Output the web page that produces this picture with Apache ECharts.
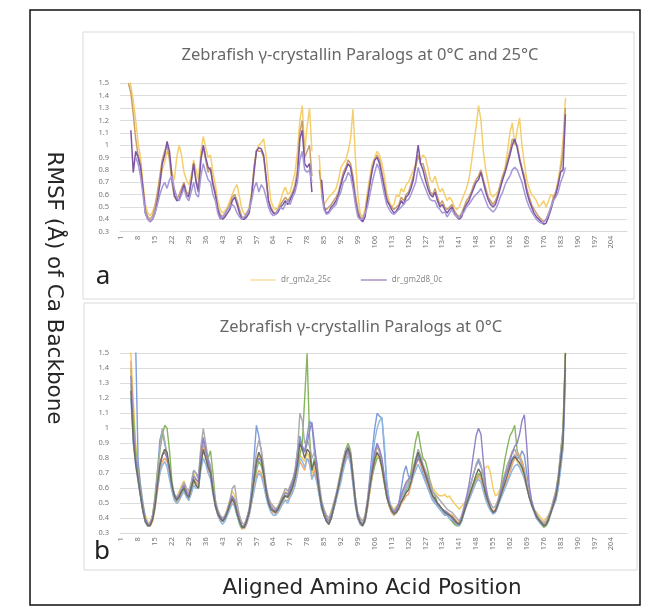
<!DOCTYPE html>
<html><head><meta charset="utf-8">
<script src="https://cdn.jsdelivr.net/npm/echarts@6/dist/echarts.min.js"></script>
<style>html,body{margin:0;padding:0;background:#fff}#c{width:663px;height:614px}</style>
</head><body><div id="c"></div>
<script>
const categories = Array.from({length:210},(_,i)=>String(i+1));
const yTicks = [0.3,0.4,0.5,0.6,0.7,0.8,0.9,1,1.1,1.2,1.3,1.4,1.5];

// Panel a
const a_gm2a_25c = [null,null,null,1.56,1.48,1.36,1.2,1.02,0.9,0.7,
0.52,0.45,0.43,0.46,0.52,0.6,0.7,0.8,0.86,0.95,
0.9,0.78,0.72,0.9,1.0,0.92,0.78,0.72,0.68,0.75,
0.88,0.8,0.72,0.95,1.07,0.98,0.9,0.92,0.78,0.68,
0.55,0.48,0.45,0.47,0.5,0.55,0.6,0.65,0.68,0.58,
0.48,0.44,0.45,0.5,0.62,0.8,0.95,1.0,1.02,1.05,
0.92,0.72,0.55,0.5,0.48,0.5,0.55,0.62,0.66,0.6,
0.62,0.7,0.78,0.95,1.2,1.32,0.95,1.15,1.3,0.95,
null,null,0.92,0.6,0.52,0.55,0.58,0.6,0.62,0.65,
0.72,0.82,0.85,0.88,0.95,1.05,1.29,0.9,0.6,0.45,
0.42,0.48,0.62,0.75,0.85,0.9,0.95,0.92,0.85,0.75,
0.62,0.55,0.5,0.52,0.6,0.58,0.65,0.62,0.68,0.7,
0.75,0.8,0.85,0.9,0.88,0.92,0.9,0.82,0.72,0.7,
0.75,0.68,0.62,0.65,0.6,0.55,0.58,0.55,0.5,0.48,
0.5,0.55,0.6,0.65,0.72,0.85,1.0,1.15,1.32,1.2,
0.95,0.8,0.7,0.6,0.58,0.6,0.62,0.68,0.75,0.82,
0.95,1.1,1.18,1.0,1.12,1.22,1.0,0.85,0.72,0.65,
0.6,0.58,0.55,0.5,0.52,0.55,0.5,0.55,0.6,0.58,
0.62,0.72,0.85,1.05,1.38];
const a_gm2a_0c = [null,null,null,1.5,1.42,1.25,1.05,0.92,0.85,0.65,
0.48,0.42,0.4,0.43,0.5,0.62,0.75,0.88,0.95,1.0,
0.88,0.7,0.58,0.56,0.6,0.65,0.7,0.62,0.6,0.72,
0.85,0.72,0.65,0.9,0.98,0.88,0.78,0.82,0.7,0.62,
0.5,0.44,0.42,0.44,0.48,0.52,0.58,0.6,0.55,0.48,
0.42,0.41,0.44,0.48,0.6,0.82,0.96,0.95,0.95,0.9,
0.72,0.55,0.5,0.46,0.45,0.48,0.52,0.55,0.58,0.55,
0.58,0.62,0.68,0.8,1.1,1.2,0.9,0.95,1.0,0.75,
null,null,0.8,0.65,0.5,0.48,0.5,0.52,0.55,0.58,
0.62,0.7,0.78,0.82,0.88,0.85,0.75,0.6,0.48,0.42,
0.4,0.45,0.58,0.7,0.82,0.88,0.92,0.88,0.78,0.68,
0.58,0.52,0.5,0.48,0.5,0.52,0.58,0.55,0.6,0.62,
0.68,0.75,0.82,0.92,0.85,0.85,0.78,0.7,0.62,0.6,
0.65,0.58,0.52,0.55,0.5,0.48,0.5,0.52,0.47,0.44,
0.42,0.45,0.5,0.55,0.58,0.62,0.68,0.72,0.75,0.8,
0.72,0.65,0.58,0.55,0.52,0.55,0.6,0.68,0.75,0.8,
0.88,0.95,1.05,1.02,1.0,0.9,0.82,0.75,0.65,0.58,
0.52,0.48,0.45,0.42,0.4,0.38,0.4,0.45,0.5,0.58,
0.62,0.7,0.8,0.95,1.3];
const a_gm2d8_0c = [null,null,null,null,1.12,0.78,0.95,0.9,0.82,0.65,
0.45,0.4,0.38,0.4,0.45,0.55,0.68,0.85,0.92,1.03,
0.95,0.75,0.6,0.55,0.56,0.62,0.68,0.6,0.58,0.7,
0.85,0.7,0.62,0.88,1.0,0.9,0.82,0.8,0.68,0.6,
0.48,0.42,0.4,0.42,0.45,0.48,0.55,0.58,0.52,0.45,
0.4,0.4,0.42,0.45,0.58,0.78,0.95,0.98,0.97,0.92,
0.75,0.55,0.48,0.45,0.44,0.46,0.5,0.52,0.55,0.52,
0.56,0.6,0.65,0.75,1.05,1.12,0.85,0.82,0.85,0.62,
null,null,null,0.72,0.5,0.45,0.46,0.5,0.52,0.55,
0.6,0.68,0.75,0.8,0.85,0.82,0.7,0.55,0.45,0.4,
0.38,0.42,0.55,0.68,0.8,0.88,0.9,0.85,0.75,0.65,
0.55,0.52,0.48,0.45,0.47,0.5,0.55,0.52,0.58,0.6,
0.65,0.72,0.85,1.0,0.85,0.8,0.72,0.65,0.6,0.58,
0.62,0.55,0.5,0.52,0.48,0.45,0.48,0.5,0.45,0.42,
0.4,0.42,0.48,0.52,0.55,0.6,0.65,0.7,0.72,0.78,
0.7,0.62,0.56,0.52,0.5,0.52,0.58,0.65,0.72,0.78,
0.85,0.92,1.0,1.05,0.98,0.88,0.8,0.72,0.62,0.55,
0.5,0.45,0.42,0.4,0.38,0.36,0.37,0.42,0.48,0.55,
0.6,0.68,0.78,0.8,1.25];
const a_gm2d8_25c = [null,null,null,null,null,null,0.9,0.85,0.75,0.6,
0.45,0.4,0.38,0.4,0.45,0.52,0.6,0.66,0.7,0.65,
0.72,0.75,0.65,0.58,0.55,0.6,0.65,0.58,0.55,0.62,
0.7,0.6,0.58,0.75,0.85,0.78,0.72,0.7,0.6,0.55,
0.45,0.4,0.42,0.45,0.48,0.5,0.52,0.5,0.45,0.42,
0.4,0.42,0.45,0.48,0.55,0.65,0.7,0.62,0.68,0.65,
0.58,0.5,0.45,0.43,0.44,0.48,0.5,0.48,0.52,0.55,
0.52,0.58,0.62,0.7,0.88,0.95,0.8,0.78,0.8,0.7,
null,null,null,0.6,0.48,0.44,0.45,0.48,0.5,0.52,
0.58,0.62,0.7,0.72,0.78,0.75,0.65,0.52,0.42,0.4,
0.4,0.45,0.5,0.6,0.7,0.78,0.85,0.8,0.7,0.6,
0.52,0.48,0.45,0.44,0.46,0.48,0.5,0.52,0.55,0.56,
0.6,0.65,0.7,0.82,0.75,0.7,0.65,0.6,0.56,0.55,
0.55,0.5,0.48,0.45,0.46,0.42,0.45,0.48,0.44,0.42,
0.41,0.44,0.46,0.5,0.52,0.55,0.58,0.6,0.62,0.65,
0.6,0.55,0.5,0.48,0.46,0.48,0.52,0.58,0.62,0.68,
0.72,0.75,0.8,0.82,0.8,0.75,0.7,0.62,0.55,0.5,
0.46,0.43,0.4,0.38,0.37,0.38,0.4,0.44,0.5,0.55,
0.58,0.62,0.7,0.75,0.82];

// Panel b
const b1 = [null,null,null,1.55,1.5,1.2,0.9,0.75,0.62,0.5,
0.42,0.38,0.37,0.42,0.52,0.66,0.78,0.82,0.86,0.8,
0.72,0.6,0.56,0.54,0.58,0.62,0.65,0.6,0.58,0.62,
0.7,0.66,0.64,0.8,0.9,0.84,0.76,0.7,0.58,0.5,
0.44,0.4,0.38,0.42,0.47,0.52,0.58,0.55,0.46,0.4,
0.35,0.34,0.38,0.44,0.55,0.66,0.78,0.82,0.78,0.7,
0.6,0.52,0.5,0.48,0.46,0.48,0.52,0.56,0.58,0.56,
0.6,0.62,0.66,0.74,0.82,0.8,0.78,0.84,0.8,0.7,
0.74,0.68,0.58,0.5,0.46,0.42,0.4,0.45,0.5,0.56,
0.64,0.72,0.8,0.84,0.86,0.8,0.66,0.5,0.42,0.4,
0.38,0.42,0.52,0.62,0.72,0.78,0.82,0.8,0.72,0.62,
0.55,0.5,0.48,0.46,0.48,0.5,0.55,0.58,0.62,0.65,
0.7,0.75,0.78,0.82,0.78,0.72,0.7,0.68,0.65,0.6,
0.58,0.56,0.55,0.55,0.56,0.54,0.55,0.52,0.5,0.48,
0.46,0.48,0.5,0.52,0.56,0.6,0.64,0.66,0.68,0.7,
0.72,0.74,0.75,0.7,0.6,0.55,0.56,0.6,0.65,0.7,
0.75,0.8,0.85,0.82,0.78,0.75,0.72,0.68,0.6,0.54,
0.5,0.46,0.44,0.42,0.4,0.38,0.4,0.42,0.46,0.52,
0.58,0.68,0.82,1.0,1.55];
const b2 = [null,null,null,null,null,null,1.55,0.78,0.62,0.5,
0.4,0.36,0.35,0.4,0.52,0.7,0.92,0.98,0.9,0.82,
0.7,0.6,0.54,0.52,0.56,0.6,0.62,0.56,0.55,0.62,
0.72,0.7,0.66,0.85,0.92,0.85,0.76,0.72,0.6,0.5,
0.44,0.4,0.38,0.4,0.44,0.5,0.54,0.5,0.42,0.38,
0.34,0.35,0.4,0.46,0.6,0.8,1.02,0.95,0.85,0.72,
0.6,0.5,0.46,0.44,0.44,0.46,0.5,0.52,0.55,0.54,
0.58,0.64,0.72,0.85,0.95,0.88,0.85,0.95,1.05,1.02,
0.85,0.72,0.58,0.48,0.42,0.38,0.36,0.4,0.46,0.52,
0.6,0.68,0.76,0.82,0.86,0.8,0.65,0.5,0.4,0.36,
0.35,0.4,0.52,0.68,0.85,1.0,1.1,1.08,1.07,0.85,
0.62,0.52,0.46,0.43,0.45,0.5,0.6,0.7,0.75,0.68,
0.66,0.7,0.78,0.82,0.76,0.7,0.66,0.6,0.56,0.52,
0.5,0.48,0.46,0.44,0.42,0.42,0.4,0.38,0.37,0.36,
0.36,0.4,0.46,0.52,0.58,0.64,0.7,0.75,0.78,0.74,
0.7,0.58,0.5,0.46,0.43,0.44,0.48,0.55,0.62,0.68,
0.72,0.76,0.8,0.82,0.8,0.8,0.85,0.82,0.7,0.58,
0.5,0.45,0.4,0.38,0.36,0.35,0.36,0.4,0.44,0.48,
0.52,0.6,0.75,0.88,1.4];
const b3 = [null,null,null,null,1.4,1.1,0.85,0.7,0.58,0.46,
0.38,0.35,0.36,0.42,0.55,0.72,0.85,0.95,1.02,1.0,
0.85,0.65,0.55,0.5,0.52,0.56,0.6,0.55,0.52,0.58,
0.65,0.62,0.6,0.75,0.85,0.82,0.8,0.85,0.7,0.52,
0.44,0.4,0.38,0.4,0.44,0.48,0.5,0.48,0.42,0.36,
0.33,0.34,0.38,0.44,0.52,0.62,0.72,0.78,0.75,0.68,
0.58,0.5,0.46,0.45,0.44,0.45,0.48,0.52,0.55,0.55,
0.56,0.6,0.65,0.72,0.82,0.9,1.2,1.5,0.95,0.72,
0.8,0.75,0.62,0.5,0.44,0.38,0.36,0.4,0.46,0.54,
0.62,0.7,0.78,0.86,0.9,0.85,0.7,0.54,0.42,0.37,
0.35,0.38,0.48,0.58,0.68,0.75,0.8,0.8,0.74,0.64,
0.54,0.48,0.44,0.42,0.44,0.46,0.5,0.54,0.58,0.62,
0.7,0.82,0.92,0.98,0.88,0.8,0.78,0.72,0.64,0.58,
0.55,0.5,0.48,0.46,0.44,0.42,0.4,0.38,0.36,0.35,
0.35,0.38,0.44,0.5,0.54,0.58,0.62,0.66,0.7,0.68,
0.62,0.55,0.5,0.46,0.44,0.45,0.5,0.58,0.7,0.8,
0.88,0.95,0.98,1.02,0.85,0.8,0.78,0.72,0.62,0.55,
0.5,0.45,0.41,0.38,0.36,0.34,0.35,0.38,0.44,0.5,
0.56,0.66,0.84,1.0,1.5];
const b4 = [null,null,null,null,1.45,1.0,0.8,0.68,0.56,0.45,
0.38,0.35,0.35,0.38,0.46,0.58,0.7,0.78,0.8,0.78,
0.7,0.6,0.54,0.5,0.52,0.56,0.58,0.55,0.54,0.58,
0.66,0.64,0.62,0.78,0.9,0.82,0.72,0.68,0.58,0.48,
0.42,0.39,0.38,0.4,0.44,0.48,0.52,0.5,0.44,0.38,
0.34,0.33,0.36,0.42,0.5,0.6,0.68,0.72,0.7,0.65,
0.56,0.5,0.46,0.44,0.43,0.45,0.48,0.5,0.52,0.52,
0.55,0.58,0.62,0.7,0.78,0.75,0.72,0.8,0.78,0.66,
0.72,0.66,0.56,0.48,0.44,0.4,0.38,0.42,0.48,0.54,
0.6,0.66,0.74,0.8,0.84,0.78,0.64,0.5,0.4,0.36,
0.35,0.38,0.46,0.58,0.7,0.8,0.88,0.85,0.78,0.66,
0.55,0.48,0.44,0.42,0.44,0.46,0.5,0.52,0.55,0.56,
0.62,0.68,0.75,0.8,0.76,0.72,0.68,0.62,0.58,0.54,
0.52,0.5,0.48,0.46,0.45,0.44,0.43,0.42,0.4,0.38,
0.37,0.4,0.44,0.48,0.52,0.56,0.6,0.64,0.68,0.66,
0.6,0.54,0.5,0.47,0.45,0.46,0.5,0.54,0.58,0.62,
0.66,0.7,0.76,0.8,0.84,0.82,0.78,0.72,0.64,0.56,
0.5,0.46,0.42,0.4,0.38,0.36,0.37,0.4,0.44,0.48,
0.54,0.62,0.76,0.9,1.45];
const b5 = [null,null,null,null,1.3,0.95,0.78,0.66,0.55,0.45,
0.38,0.36,0.37,0.42,0.52,0.68,0.85,1.0,0.92,0.82,
0.72,0.62,0.56,0.54,0.56,0.6,0.64,0.6,0.58,0.64,
0.72,0.7,0.68,0.88,1.0,0.9,0.8,0.75,0.62,0.52,
0.46,0.42,0.4,0.42,0.46,0.52,0.6,0.62,0.5,0.42,
0.37,0.36,0.4,0.46,0.56,0.7,0.85,0.92,0.86,0.75,
0.62,0.54,0.5,0.48,0.46,0.48,0.52,0.56,0.6,0.58,
0.62,0.66,0.72,0.85,1.1,1.05,0.9,0.92,0.88,0.8,
0.84,0.78,0.64,0.52,0.46,0.42,0.4,0.44,0.5,0.56,
0.64,0.72,0.8,0.86,0.88,0.84,0.7,0.54,0.44,0.4,
0.38,0.42,0.52,0.64,0.74,0.82,0.88,0.84,0.76,0.66,
0.56,0.5,0.47,0.45,0.47,0.5,0.54,0.58,0.62,0.64,
0.68,0.74,0.8,0.86,0.82,0.76,0.72,0.68,0.64,0.58,
0.56,0.54,0.52,0.5,0.48,0.46,0.45,0.44,0.42,0.4,
0.38,0.42,0.48,0.54,0.58,0.64,0.7,0.76,0.8,0.76,
0.68,0.6,0.54,0.5,0.47,0.48,0.52,0.58,0.64,0.7,
0.76,0.8,0.84,0.86,0.82,0.8,0.76,0.7,0.62,0.56,
0.5,0.46,0.43,0.4,0.38,0.37,0.38,0.42,0.46,0.52,
0.58,0.68,0.84,0.98,1.5];
const b6 = [null,null,null,null,1.2,0.9,0.75,0.64,0.54,0.44,
0.37,0.35,0.36,0.4,0.48,0.6,0.7,0.75,0.78,0.74,
0.66,0.58,0.52,0.5,0.52,0.55,0.58,0.54,0.52,0.56,
0.62,0.6,0.6,0.72,0.8,0.76,0.7,0.66,0.56,0.48,
0.42,0.38,0.36,0.38,0.42,0.46,0.5,0.48,0.42,0.37,
0.34,0.34,0.37,0.42,0.5,0.58,0.66,0.7,0.68,0.62,
0.54,0.48,0.44,0.42,0.42,0.44,0.47,0.5,0.52,0.5,
0.54,0.57,0.62,0.7,0.8,0.78,0.74,0.8,0.76,0.66,
0.7,0.64,0.55,0.46,0.42,0.38,0.36,0.4,0.46,0.52,
0.58,0.64,0.72,0.78,0.82,0.76,0.62,0.48,0.4,0.36,
0.35,0.38,0.48,0.62,0.78,0.92,1.0,1.05,1.07,0.9,
0.65,0.52,0.46,0.43,0.44,0.47,0.52,0.56,0.6,0.62,
0.64,0.68,0.72,0.76,0.72,0.68,0.64,0.6,0.56,0.52,
0.5,0.48,0.46,0.44,0.43,0.42,0.4,0.39,0.38,0.36,
0.35,0.38,0.43,0.48,0.52,0.56,0.6,0.64,0.66,0.64,
0.58,0.52,0.48,0.45,0.43,0.44,0.48,0.52,0.56,0.6,
0.64,0.68,0.72,0.75,0.76,0.74,0.7,0.66,0.6,0.54,
0.48,0.44,0.4,0.38,0.36,0.35,0.36,0.39,0.43,0.48,
0.52,0.6,0.72,0.86,1.3];
const b7 = [null,null,null,null,1.35,1.0,0.8,0.68,0.56,0.46,
0.39,0.36,0.36,0.4,0.5,0.64,0.76,0.82,0.84,0.8,
0.72,0.62,0.56,0.53,0.55,0.58,0.62,0.58,0.56,0.6,
0.68,0.66,0.64,0.82,0.94,0.86,0.78,0.72,0.6,0.5,
0.44,0.41,0.39,0.41,0.45,0.5,0.55,0.52,0.45,0.39,
0.35,0.35,0.39,0.44,0.54,0.66,0.76,0.8,0.78,0.7,
0.6,0.52,0.48,0.46,0.45,0.47,0.5,0.54,0.57,0.56,
0.6,0.64,0.7,0.8,0.92,0.88,0.84,0.9,0.98,1.04,
0.9,0.76,0.6,0.5,0.44,0.4,0.38,0.42,0.48,0.55,
0.62,0.7,0.76,0.82,0.85,0.8,0.66,0.52,0.42,0.38,
0.36,0.4,0.5,0.62,0.74,0.84,0.9,0.86,0.8,0.68,
0.57,0.5,0.46,0.44,0.46,0.5,0.56,0.6,0.64,0.66,
0.68,0.72,0.76,0.8,0.78,0.74,0.7,0.66,0.6,0.55,
0.52,0.5,0.48,0.46,0.45,0.44,0.42,0.4,0.38,0.37,
0.36,0.4,0.46,0.54,0.62,0.72,0.84,0.95,1.0,0.96,
0.78,0.62,0.52,0.47,0.44,0.45,0.5,0.56,0.62,0.68,
0.72,0.78,0.84,0.88,0.9,0.96,1.05,1.09,0.88,0.62,
0.52,0.46,0.42,0.39,0.37,0.35,0.36,0.4,0.44,0.5,
0.56,0.66,0.8,0.92,1.4];
const b8 = [null,null,null,null,1.25,0.92,0.76,0.66,0.55,0.45,
0.38,0.35,0.35,0.39,0.48,0.62,0.75,0.82,0.86,0.84,
0.74,0.62,0.55,0.52,0.54,0.58,0.6,0.56,0.54,0.6,
0.66,0.62,0.6,0.76,0.86,0.8,0.74,0.7,0.58,0.48,
0.43,0.4,0.38,0.4,0.44,0.49,0.53,0.5,0.43,0.38,
0.34,0.34,0.38,0.44,0.54,0.66,0.78,0.84,0.8,0.7,
0.58,0.5,0.46,0.45,0.44,0.46,0.5,0.53,0.55,0.54,
0.57,0.61,0.67,0.76,0.9,0.86,0.8,0.86,0.84,0.72,
0.78,0.7,0.58,0.48,0.42,0.38,0.36,0.4,0.47,0.54,
0.61,0.69,0.77,0.84,0.87,0.82,0.67,0.51,0.41,0.37,
0.35,0.39,0.49,0.61,0.71,0.79,0.84,0.81,0.74,0.64,
0.54,0.49,0.45,0.43,0.44,0.47,0.51,0.54,0.57,0.59,
0.64,0.71,0.79,0.84,0.79,0.74,0.69,0.64,0.59,0.55,
0.53,0.5,0.48,0.46,0.44,0.43,0.42,0.41,0.39,0.37,
0.36,0.39,0.44,0.49,0.54,0.59,0.64,0.69,0.73,0.7,
0.63,0.56,0.51,0.47,0.44,0.45,0.49,0.54,0.59,0.64,
0.69,0.74,0.79,0.81,0.79,0.77,0.74,0.69,0.61,0.54,
0.49,0.45,0.41,0.39,0.37,0.35,0.36,0.39,0.44,0.49,
0.54,0.64,0.78,0.92,1.5];

const aNames = ['dr_gm2a_25c','dr_gm2a_0c','dr_gm2d8_0c','dr_gm2d8_25c'];
const aColors = ['#F5CF6E','#C9A06A','#7A56A4','#A597DA'];
const aData = [a_gm2a_25c,a_gm2a_0c,a_gm2d8_0c,a_gm2d8_25c];
const bNames = ['dr_gm2a_0c','dr_gm2b_0c','dr_gm2c_0c','dr_gm2d1_0c','dr_gm2d2_0c','dr_gm2d3_0c','dr_gm2d8_0c','dr_gm2d9_0c'];
const bColors = ['#F5CC66','#7E9BDA','#86B65E','#F0A670','#ABABAB','#8EB8E2','#9282C8','#6E6E60'];
const bData = [b1,b2,b3,b4,b5,b6,b7,b8];

const FONT = 'Noto Sans';
function xAx(gi){return {type:'category',gridIndex:gi,data:categories,boundaryGap:true,
  axisLine:{show:true,lineStyle:{color:'#D9D9D9'}},axisTick:{show:false},
  axisLabel:{interval:6,rotate:90,fontSize:7.5,color:'#777',margin:4,fontFamily:FONT},splitLine:{show:false}};}
function yAx(gi){return {type:'value',gridIndex:gi,min:yTicks[0],max:yTicks[yTicks.length-1],interval:0.1,
  axisLine:{show:false},axisTick:{show:false},
  axisLabel:{fontSize:7.5,color:'#777',margin:11,fontFamily:FONT,formatter:v=>String(+v.toFixed(1))},
  splitLine:{lineStyle:{color:'#DCDCDC',width:1}}};}

const series = [];
aData.forEach((d,i)=>series.push({type:'line',name:aNames[i],xAxisIndex:0,yAxisIndex:0,data:d,showSymbol:false,
  lineStyle:{width:1.5,color:aColors[i]},itemStyle:{color:aColors[i]},connectNulls:false,animation:false}));
bData.forEach((d,i)=>series.push({type:'line',name:'b_'+bNames[i],xAxisIndex:1,yAxisIndex:1,data:d,showSymbol:false,
  lineStyle:{width:1.4,color:bColors[i]},itemStyle:{color:bColors[i]},animation:false}));

const chart = echarts.init(document.getElementById('c'),null,{renderer:'canvas'});
chart.setOption({
  animation:false,
  backgroundColor:'#fff',
  textStyle:{fontFamily:FONT},
  grid:[{left:120,top:83.3,width:507,height:148.4},{left:120,top:353.3,width:507,height:180}],
  xAxis:[xAx(0),xAx(1)],
  yAxis:[yAx(0),yAx(1)],
  legend:{data:['dr_gm2a_25c','dr_gm2d8_0c'],left:245,top:271,itemWidth:26,itemHeight:6,itemGap:30,
    icon:'path://M0,2.5L26,2.5L26,3.5L0,3.5Z',textStyle:{fontSize:8,color:'#8a8a8a',fontFamily:FONT}},
  series:series,
  graphic:[
    {type:'rect',shape:{x:30,y:10,width:610,height:595},style:{fill:'none',stroke:'#111',lineWidth:1.5},z:-1},
    {type:'rect',shape:{x:83,y:32,width:551,height:267},style:{fill:'none',stroke:'#D9D9D9',lineWidth:1},z:-1},
    {type:'rect',shape:{x:84,y:303,width:553,height:267},style:{fill:'none',stroke:'#D9D9D9',lineWidth:1},z:-1},
    {type:'text',x:360,y:55,style:{text:'Zebrafish γ-crystallin Paralogs at 0°C and 25°C',fill:'#676767',font:'16.5px "Noto Sans"',textAlign:'center',textVerticalAlign:'middle'}},
    {type:'text',x:361,y:327,style:{text:'Zebrafish γ-crystallin Paralogs at 0°C',fill:'#676767',font:'16.5px "Noto Sans"',textAlign:'center',textVerticalAlign:'middle'}},
    {type:'text',x:103,y:277,style:{text:'a',fill:'#222',font:'26px "Noto Sans"',textAlign:'center',textVerticalAlign:'middle'}},
    {type:'text',x:102,y:552,style:{text:'b',fill:'#222',font:'26px "Noto Sans"',textAlign:'center',textVerticalAlign:'middle'}},
    {type:'text',x:372,y:588,style:{text:'Aligned Amino Acid Position',fill:'#262626',font:'21.5px "DejaVu Sans"',textAlign:'center',textVerticalAlign:'middle'}},
    {type:'text',x:54,y:288,rotation:-Math.PI/2,style:{text:'RMSF (Å) of Ca Backbone',fill:'#262626',font:'21.5px "DejaVu Sans"',textAlign:'center',textVerticalAlign:'middle'}}
  ]
});
</script></body></html>
